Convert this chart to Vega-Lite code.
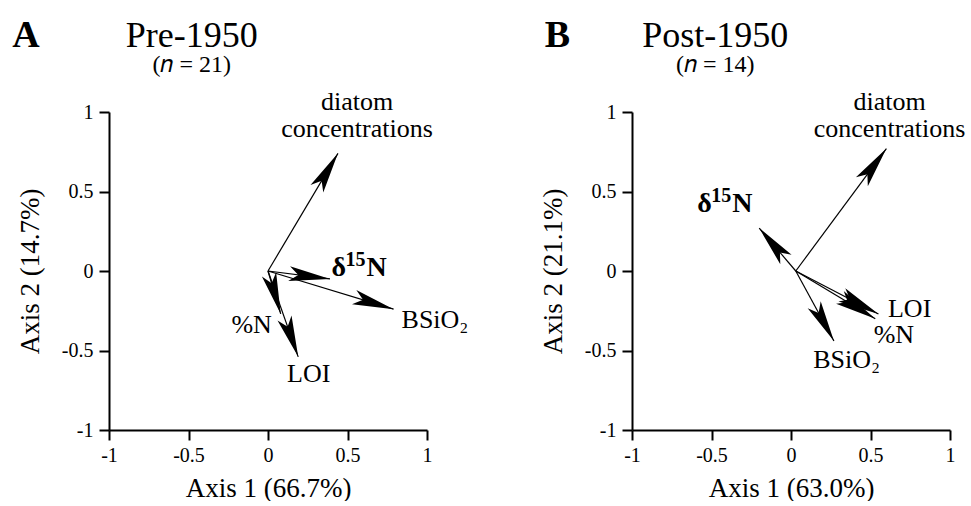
{
  "$schema": "https://vega.github.io/schema/vega-lite/v6.json",
  "background": "white",
  "padding": {"left": 12, "top": 17, "right": 0, "bottom": 0},
  "bounds": "flush",
  "spacing": 205,
  "config": {
    "view": {"stroke": null},
    "font": "Liberation Serif",
    "text": {"font": "Liberation Serif", "color": "black"},
    "axis": {
      "domainColor": "black", "domainWidth": 2, "tickColor": "black", "tickWidth": 2, "tickSize": 10,
      "labelFont": "Liberation Serif", "labelFontSize": 20, "labelColor": "black",
      "titleFont": "Liberation Serif", "titleFontSize": 27, "titleFontWeight": "normal", "titleColor": "black",
      "grid": false, "labelFlush": false, "labelOverlap": false
    },
    "axisX": {"labelPadding": 5, "titlePadding": 10},
    "axisY": {"labelPadding": 6, "titlePadding": 17}
  },
  "datasets": {
    "arrows": [
      {"panel": "A", "variable": "diatom concentrations", "x0": 0, "y0": 0, "x": 0.44, "y": 0.74},
      {"panel": "A", "variable": "d15N", "x0": 0, "y0": 0, "x": 0.39, "y": -0.05},
      {"panel": "A", "variable": "BSiO2", "x0": 0, "y0": 0, "x": 0.79, "y": -0.24},
      {"panel": "A", "variable": "%N", "x0": 0, "y0": 0, "x": 0.08, "y": -0.27},
      {"panel": "A", "variable": "LOI", "x0": 0, "y0": 0, "x": 0.19, "y": -0.54},
      {"panel": "B", "variable": "diatom concentrations", "x0": 0.03, "y0": 0, "x": 0.60, "y": 0.77},
      {"panel": "B", "variable": "d15N", "x0": 0.03, "y0": 0, "x": -0.20, "y": 0.27},
      {"panel": "B", "variable": "LOI", "x0": 0.03, "y0": 0, "x": 0.55, "y": -0.27},
      {"panel": "B", "variable": "%N", "x0": 0.03, "y0": 0, "x": 0.53, "y": -0.30},
      {"panel": "B", "variable": "BSiO2", "x0": 0.03, "y0": 0, "x": 0.27, "y": -0.44}
    ],
    "labels": [
      {"panel": "A", "kind": "plain", "label": "BSiO₂", "lx": 0.84, "ly": -0.36},
      {"panel": "A", "kind": "plain", "label": "%N", "lx": -0.23, "ly": -0.39},
      {"panel": "A", "kind": "plain", "label": "LOI", "lx": 0.12, "ly": -0.70},
      {"panel": "A", "kind": "top", "label": "diatom", "lx": 0.56, "ly": 1.01},
      {"panel": "A", "kind": "top", "label": "concentrations", "lx": 0.56, "ly": 0.845},
      {"panel": "B", "kind": "plain", "label": "LOI", "lx": 0.61, "ly": -0.29},
      {"panel": "B", "kind": "plain", "label": "%N", "lx": 0.52, "ly": -0.45},
      {"panel": "B", "kind": "plain", "label": "BSiO₂", "lx": 0.14, "ly": -0.61},
      {"panel": "B", "kind": "top", "label": "diatom", "lx": 0.62, "ly": 1.01},
      {"panel": "B", "kind": "top", "label": "concentrations", "lx": 0.62, "ly": 0.84}
    ],
    "isotope": [
      {"panel": "A", "base": "δ", "sup": "15", "tail": "N", "lx": 0.40, "ly": -0.03},
      {"panel": "B", "base": "δ", "sup": "15", "tail": "N", "lx": -0.59, "ly": 0.37}
    ],
    "headers": [
      {"panel": "A", "letter": "A", "period": "Pre-1950", "n": "(𝑛 = 21)"},
      {"panel": "B", "letter": "B", "period": "Post-1950", "n": "(𝑛 = 14)"}
    ]
  },
  "hconcat": [
    {
      "width": 318, "height": 318,
      "layer": [
        {
          "data": {"name": "arrows"},
          "transform": [{"filter": "datum.panel === 'A'"}],
          "mark": {"type": "rule", "color": "black", "strokeWidth": 1.2},
          "encoding": {
            "x": {"field": "x0", "type": "quantitative", "scale": {"domain": [-1, 1], "nice": false, "zero": false}, "title": "Axis 1 (66.7%)", "axis": {"values": [-1, -0.5, 0, 0.5, 1], "labelExpr": "'' + datum.value", "labelFont": "Liberation Serif", "titleFont": "Liberation Serif"}},
            "y": {"field": "y0", "type": "quantitative", "scale": {"domain": [-1, 1], "nice": false, "zero": false}, "title": "Axis 2 (14.7%)", "axis": {"values": [-1, -0.5, 0, 0.5, 1], "labelExpr": "'' + datum.value", "labelFont": "Liberation Serif", "titleFont": "Liberation Serif"}},
            "x2": {"field": "x"},
            "y2": {"field": "y"}
          }
        },
        {
          "data": {"name": "arrows"},
          "transform": [{"filter": "datum.panel === 'A'"}, {"calculate": "atan2(datum.x - datum.x0, datum.y - datum.y0) * 180 / PI", "as": "angle"}],
          "mark": {"type": "point", "shape": "M0,0 L0.36,2 L0,1.55 L-0.36,2 Z", "filled": true, "color": "black", "opacity": 1, "size": 1700, "strokeWidth": 0},
          "encoding": {
            "x": {"field": "x", "type": "quantitative"},
            "y": {"field": "y", "type": "quantitative"},
            "angle": {"field": "angle", "type": "quantitative", "scale": null}
          }
        },
        {
          "data": {"name": "labels"},
          "transform": [{"filter": "datum.panel === 'A' && datum.kind === 'plain'"}],
          "mark": {"type": "text", "align": "left", "baseline": "alphabetic", "fontSize": 26},
          "encoding": {"x": {"field": "lx", "type": "quantitative"}, "y": {"field": "ly", "type": "quantitative"}, "text": {"field": "label"}}
        },
        {
          "data": {"name": "labels"},
          "transform": [{"filter": "datum.panel === 'A' && datum.kind === 'top'"}],
          "mark": {"type": "text", "align": "center", "baseline": "alphabetic", "fontSize": 26},
          "encoding": {"x": {"field": "lx", "type": "quantitative"}, "y": {"field": "ly", "type": "quantitative"}, "text": {"field": "label"}}
        },
        {
          "data": {"name": "isotope"},
          "transform": [{"filter": "datum.panel === 'A'"}],
          "layer": [
            {"mark": {"type": "text", "align": "left", "baseline": "alphabetic", "fontSize": 28, "fontWeight": "bold"}, "encoding": {"text": {"field": "base"}}},
            {"mark": {"type": "text", "align": "left", "baseline": "alphabetic", "fontSize": 20, "fontWeight": "bold", "dx": 14, "dy": -10}, "encoding": {"text": {"field": "sup"}}},
            {"mark": {"type": "text", "align": "left", "baseline": "alphabetic", "fontSize": 28, "fontWeight": "bold", "dx": 35}, "encoding": {"text": {"field": "tail"}}}
          ],
          "encoding": {"x": {"field": "lx", "type": "quantitative"}, "y": {"field": "ly", "type": "quantitative"}}
        },
        {
          "data": {"name": "headers"},
          "transform": [{"filter": "datum.panel === 'A'"}],
          "layer": [
            {"mark": {"type": "text", "align": "left", "baseline": "alphabetic", "fontSize": 38, "fontWeight": "bold"}, "encoding": {"x": {"datum": -1.608}, "y": {"datum": 1.407}, "text": {"field": "letter"}}},
            {"mark": {"type": "text", "align": "center", "baseline": "alphabetic", "fontSize": 36}, "encoding": {"x": {"datum": -0.48}, "y": {"datum": 1.407}, "text": {"field": "period"}}},
            {"mark": {"type": "text", "align": "center", "baseline": "alphabetic", "fontSize": 24}, "encoding": {"x": {"datum": -0.48}, "y": {"datum": 1.25}, "text": {"field": "n"}}}
          ]
        }
      ]
    },
    {
      "width": 318, "height": 318,
      "layer": [
        {
          "data": {"name": "arrows"},
          "transform": [{"filter": "datum.panel === 'B'"}],
          "mark": {"type": "rule", "color": "black", "strokeWidth": 1.2},
          "encoding": {
            "x": {"field": "x0", "type": "quantitative", "scale": {"domain": [-1, 1], "nice": false, "zero": false}, "title": "Axis 1 (63.0%)", "axis": {"values": [-1, -0.5, 0, 0.5, 1], "labelExpr": "'' + datum.value", "labelFont": "Liberation Serif", "titleFont": "Liberation Serif"}},
            "y": {"field": "y0", "type": "quantitative", "scale": {"domain": [-1, 1], "nice": false, "zero": false}, "title": "Axis 2 (21.1%)", "axis": {"values": [-1, -0.5, 0, 0.5, 1], "labelExpr": "'' + datum.value", "labelFont": "Liberation Serif", "titleFont": "Liberation Serif"}},
            "x2": {"field": "x"},
            "y2": {"field": "y"}
          }
        },
        {
          "data": {"name": "arrows"},
          "transform": [{"filter": "datum.panel === 'B'"}, {"calculate": "atan2(datum.x - datum.x0, datum.y - datum.y0) * 180 / PI", "as": "angle"}],
          "mark": {"type": "point", "shape": "M0,0 L0.36,2 L0,1.55 L-0.36,2 Z", "filled": true, "color": "black", "opacity": 1, "size": 1700, "strokeWidth": 0},
          "encoding": {
            "x": {"field": "x", "type": "quantitative"},
            "y": {"field": "y", "type": "quantitative"},
            "angle": {"field": "angle", "type": "quantitative", "scale": null}
          }
        },
        {
          "data": {"name": "labels"},
          "transform": [{"filter": "datum.panel === 'B' && datum.kind === 'plain'"}],
          "mark": {"type": "text", "align": "left", "baseline": "alphabetic", "fontSize": 26},
          "encoding": {"x": {"field": "lx", "type": "quantitative"}, "y": {"field": "ly", "type": "quantitative"}, "text": {"field": "label"}}
        },
        {
          "data": {"name": "labels"},
          "transform": [{"filter": "datum.panel === 'B' && datum.kind === 'top'"}],
          "mark": {"type": "text", "align": "center", "baseline": "alphabetic", "fontSize": 26},
          "encoding": {"x": {"field": "lx", "type": "quantitative"}, "y": {"field": "ly", "type": "quantitative"}, "text": {"field": "label"}}
        },
        {
          "data": {"name": "isotope"},
          "transform": [{"filter": "datum.panel === 'B'"}],
          "layer": [
            {"mark": {"type": "text", "align": "left", "baseline": "alphabetic", "fontSize": 28, "fontWeight": "bold"}, "encoding": {"text": {"field": "base"}}},
            {"mark": {"type": "text", "align": "left", "baseline": "alphabetic", "fontSize": 20, "fontWeight": "bold", "dx": 14, "dy": -10}, "encoding": {"text": {"field": "sup"}}},
            {"mark": {"type": "text", "align": "left", "baseline": "alphabetic", "fontSize": 28, "fontWeight": "bold", "dx": 35}, "encoding": {"text": {"field": "tail"}}}
          ],
          "encoding": {"x": {"field": "lx", "type": "quantitative"}, "y": {"field": "ly", "type": "quantitative"}}
        },
        {
          "data": {"name": "headers"},
          "transform": [{"filter": "datum.panel === 'B'"}],
          "layer": [
            {"mark": {"type": "text", "align": "left", "baseline": "alphabetic", "fontSize": 38, "fontWeight": "bold"}, "encoding": {"x": {"datum": -1.548}, "y": {"datum": 1.407}, "text": {"field": "letter"}}},
            {"mark": {"type": "text", "align": "center", "baseline": "alphabetic", "fontSize": 36}, "encoding": {"x": {"datum": -0.477}, "y": {"datum": 1.407}, "text": {"field": "period"}}},
            {"mark": {"type": "text", "align": "center", "baseline": "alphabetic", "fontSize": 24}, "encoding": {"x": {"datum": -0.477}, "y": {"datum": 1.25}, "text": {"field": "n"}}}
          ]
        }
      ]
    }
  ]
}
